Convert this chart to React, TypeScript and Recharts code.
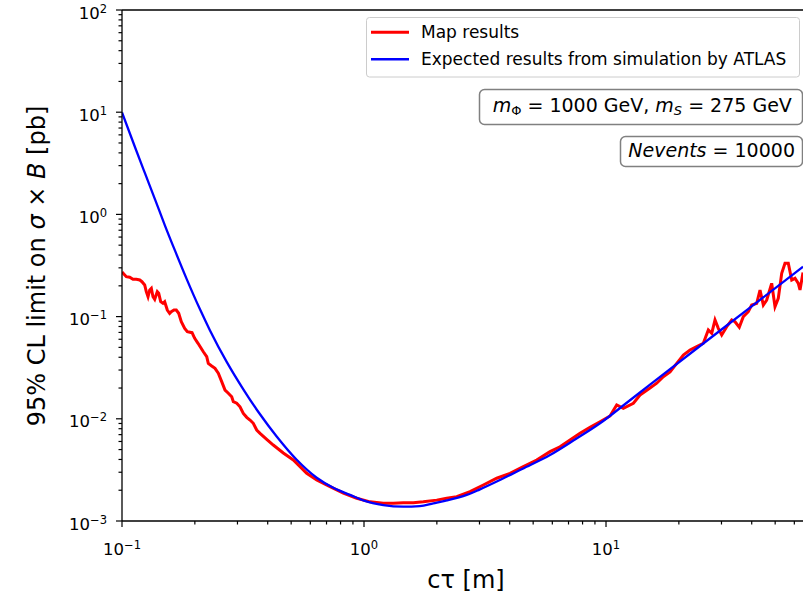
import React from 'react';
import { LineChart, Line, XAxis, YAxis, ReferenceLine, Label } from 'recharts';

// ---- Data ----
const MAP_CT = [
  0.1, 0.1042, 0.1076, 0.111, 0.1146, 0.1184, 0.1209, 0.1241, 0.126, 0.1281,
  0.1302, 0.1322, 0.1343, 0.1365, 0.1399, 0.1418, 0.1445, 0.1477, 0.1501, 0.1539,
  0.1574, 0.1598, 0.164, 0.1676, 0.1715, 0.1758, 0.1816, 0.1862, 0.1947, 0.1997,
  0.2061, 0.2168, 0.2239, 0.2273, 0.2348, 0.2423, 0.25, 0.2582, 0.2665, 0.275,
  0.284, 0.2884, 0.2979, 0.3074, 0.3172, 0.3276, 0.338, 0.3488, 0.3603, 0.3718,
  0.3962, 0.4218, 0.464, 0.5103, 0.5797, 0.6375, 0.7236, 0.8213, 0.9329, 1.0587,
  1.2016, 1.3214, 1.4535, 1.5986, 1.7582, 1.997, 2.1965, 2.4158, 2.7417, 3.1116,
  3.5359, 4.012, 4.5531, 5.1711, 5.8703, 6.4553, 7.1002, 7.8095, 8.5896, 9.445,
  10.388, 11.07, 11.79, 12.97, 13.82, 15.2, 16.2, 17.25, 18.39, 19.6,
  20.87, 22.24, 23.71, 25.24, 26.47, 27.34, 28.21, 29.11, 30.07, 31.53,
  33.07, 34.12, 35.54, 36.92, 38.72, 39.99, 41.95, 43.29, 44.67, 46.13,
  48.37, 49.92, 51.51, 53.21, 54.9, 56.65, 58.53, 60.39, 62.31, 63.33, 65.16,
];
const MAP_LIMIT = [
  0.273, 0.2457, 0.2424, 0.2317, 0.2317, 0.2281, 0.2195, 0.2038, 0.1753, 0.1565,
  0.1821, 0.1891, 0.1565, 0.1476, 0.1753, 0.169, 0.1399, 0.1349, 0.1399, 0.116,
  0.1077, 0.1117, 0.116, 0.116, 0.1077, 0.0891, 0.0768, 0.0712, 0.0696, 0.0613,
  0.0548, 0.0453, 0.0405, 0.0349, 0.0329, 0.0312, 0.0279, 0.0231, 0.0191, 0.0178,
  0.0164, 0.0147, 0.0142, 0.0131, 0.0113, 0.01034, 0.00973, 0.00904, 0.00777, 0.00721,
  0.0063, 0.00554, 0.00463, 0.00395, 0.00293, 0.00252, 0.00217, 0.00187, 0.00167, 0.00154,
  0.00149, 0.00149, 0.00151, 0.00151, 0.00154, 0.0016, 0.00167, 0.00173, 0.00194, 0.00225,
  0.00262, 0.00293, 0.0034, 0.00395, 0.00477, 0.00533, 0.0062, 0.00721, 0.00826, 0.00937,
  0.01065, 0.01365, 0.01267, 0.0142, 0.0171, 0.02, 0.0223, 0.0258, 0.0287, 0.0349,
  0.0421, 0.0471, 0.0508, 0.0548, 0.0739, 0.0686, 0.0926, 0.0768, 0.0661, 0.0796,
  0.0926, 0.0891, 0.0786, 0.0998, 0.1117, 0.1299, 0.1349, 0.1821, 0.1299, 0.1453,
  0.2117, 0.125, 0.1511, 0.2653, 0.3323, 0.3323, 0.2281, 0.237, 0.2117, 0.1821, 0.27,
];
const ATLAS_CT = [
  0.1, 0.1132, 0.1245, 0.1369, 0.1505, 0.1656, 0.1851, 0.21, 0.231, 0.2708,
  0.3172, 0.3718, 0.4357, 0.527, 0.6375, 0.75, 0.8752, 1.0, 1.2016, 1.4535,
  1.7, 1.934, 2.2, 2.657, 3.0, 3.647, 4.5, 5.87, 7.5, 9.445,
  12, 15.2, 24.46, 39.36, 65.16,
];
const ATLAS_LIMIT = [
  9.93, 4.54, 2.518, 1.403, 0.778, 0.4416, 0.2328, 0.1178, 0.0733, 0.0361,
  0.01945, 0.01107, 0.00671, 0.00397, 0.00265, 0.0021, 0.0018, 0.00158, 0.00143, 0.00138,
  0.0014, 0.00149, 0.00159, 0.0018, 0.00203, 0.00252, 0.00323, 0.00442, 0.00634, 0.00904,
  0.01396, 0.0216, 0.0516, 0.1225, 0.3078,
];

const X_MAJOR = [0.1, 1, 10];
const X_MAJOR_EXP = ['\u22121', '0', '1'];
const X_MINOR = [0.2, 0.3, 0.4, 0.5, 0.6, 0.7, 0.8, 0.9, 2, 3, 4, 5, 6, 7, 8, 9, 20, 30, 40, 50, 60];
const Y_MAJOR = [0.001, 0.01, 0.1, 1, 10, 100];
const Y_MAJOR_EXP = ['\u22123', '\u22122', '\u22121', '0', '1', '2'];
const Y_MINOR = [
  0.002, 0.003, 0.004, 0.005, 0.006, 0.007, 0.008, 0.009,
  0.02, 0.03, 0.04, 0.05, 0.06, 0.07, 0.08, 0.09,
  0.2, 0.3, 0.4, 0.5, 0.6, 0.7, 0.8, 0.9,
  2, 3, 4, 5, 6, 7, 8, 9,
  20, 30, 40, 50, 60, 70, 80, 90,
];
const X_DOMAIN = [0.1, 65.16];
const Y_DOMAIN = [0.001, 100];

const SERIES_NAMES = ['Map results', 'Expected results from simulation by ATLAS'];
const X_LABEL = 'c\u03c4 [m]';

const mapData = MAP_CT.map((ct, i) => ({ ct, limit: MAP_LIMIT[i] }));
const atlasData = ATLAS_CT.map((ct, i) => ({ ct, limit: ATLAS_LIMIT[i] }));
const xTicks = [...X_MAJOR, ...X_MINOR].sort((a, b) => a - b);
const yTicks = [...Y_MAJOR, ...Y_MINOR].sort((a, b) => a - b);

const FONT = '"DejaVu Sans", sans-serif';
const TICK_FS = 16.5;

const XTick = (props: any) => {
  const { x, y, payload } = props;
  const idx = X_MAJOR.indexOf(payload.value);
  const major = idx >= 0;
  return (
    <g>
      <line x1={x} x2={x} y1={y} y2={y + (major ? 6 : 3.5)} stroke="#000" strokeWidth={1.2} />
      {major && (
        <text x={x} y={y + 34} textAnchor="middle" fontFamily={FONT} fontSize={TICK_FS} fill="#000">
          10
          <tspan dy={-6} fontSize={TICK_FS * 0.7}>{X_MAJOR_EXP[idx]}</tspan>
        </text>
      )}
    </g>
  );
};

const YTick = (props: any) => {
  const { x, y, payload } = props;
  const idx = Y_MAJOR.indexOf(payload.value);
  const major = idx >= 0;
  return (
    <g>
      <line x1={x} x2={x - (major ? 6 : 3.5)} y1={y} y2={y} stroke="#000" strokeWidth={1.2} />
      {major && (
        <text x={x - 15} y={y + 8.5} textAnchor="end" fontFamily={FONT} fontSize={TICK_FS} fill="#000">
          10
          <tspan dy={-6} fontSize={TICK_FS * 0.7}>{Y_MAJOR_EXP[idx]}</tspan>
        </text>
      )}
    </g>
  );
};

const Overlay = () => (
  <svg
    width={803}
    height={595}
    style={{ position: 'absolute', left: 0, top: 0, pointerEvents: 'none' }}
    fontFamily={FONT}
  >
    {/* legend */}
    <rect x={366.5} y={17.5} width={433} height={59.5} rx={3} fill="#fff" fillOpacity={0.8} stroke="#cccccc" strokeWidth={1} />
    <line x1={371} x2={409} y1={32.3} y2={32.3} stroke="#ff0000" strokeWidth={3} />
    <line x1={371} x2={409} y1={59.3} y2={59.3} stroke="#0000ff" strokeWidth={2.5} />
    <text x={421} y={38.3} fontSize={17} fill="#000">{SERIES_NAMES[0]}</text>
    <text x={421} y={65} fontSize={17} fill="#000">{SERIES_NAMES[1]}</text>

    {/* mass annotation */}
    <rect x={479.5} y={89.5} width={323} height={35} rx={5} fill="#fff" stroke="#808080" strokeWidth={1.5} />
    <text x={492.7} y={111.7} fontSize={19} fill="#000">
      <tspan fontStyle="italic">m</tspan>
      <tspan fontSize={13} dy={3}>{'\u03a6'}</tspan>
      <tspan dy={-3}>{' = 1000 GeV, '}</tspan>
      <tspan fontStyle="italic">m</tspan>
      <tspan fontSize={13} dy={3} fontStyle="italic">S</tspan>
      <tspan dy={-3}>{' = 275 GeV'}</tspan>
    </text>

    {/* events annotation */}
    <rect x={620.5} y={136.5} width={182} height={30} rx={5} fill="#fff" stroke="#808080" strokeWidth={1.5} />
    <text x={628.3} y={156.7} fontSize={19} fill="#000">
      <tspan fontStyle="italic">Nevents</tspan>
      <tspan>{' = 10000'}</tspan>
    </text>
  </svg>
);

export default function App() {
  return (
    <div style={{ position: 'absolute', left: 0, top: 0, width: 803, height: 595, background: '#fff' }}>
      <LineChart width={803} height={595} margin={{ top: 10, right: 0, bottom: 0, left: 0 }}>
        <XAxis
          xAxisId={0}
          type="number"
          dataKey="ct"
          scale="log"
          domain={X_DOMAIN}
          allowDataOverflow
          ticks={xTicks}
          interval={0}
          tick={(p: any) => <XTick {...p} />}
          tickLine={false}
          tickSize={0}
          tickMargin={0}
          axisLine={{ stroke: '#000', strokeWidth: 1.3 }}
          height={74}
        >
          <Label
            content={() => (
              <text x={466} y={588} textAnchor="middle" fontFamily={FONT} fontSize={24} fill="#000">
                {X_LABEL}
              </text>
            )}
          />
        </XAxis>
        <YAxis
          yAxisId={0}
          type="number"
          scale="log"
          domain={Y_DOMAIN}
          allowDataOverflow
          ticks={yTicks}
          interval={0}
          tick={(p: any) => <YTick {...p} />}
          tickLine={false}
          tickSize={0}
          tickMargin={0}
          axisLine={{ stroke: '#000', strokeWidth: 1.3 }}
          width={122}
        >
          <Label
            content={() => (
              <text
                x={45}
                y={266}
                transform="rotate(-90, 45, 266)"
                textAnchor="middle"
                fontFamily={FONT}
                fontSize={24}
                fill="#000"
              >
                {'95% CL limit on '}
                <tspan fontStyle="italic">{'\u03c3'}</tspan>
                {' \u00d7 '}
                <tspan fontStyle="italic">B</tspan>
                {' [pb]'}
              </text>
            )}
          />
        </YAxis>
        <ReferenceLine xAxisId={0} yAxisId={0} y={100} stroke="#000" strokeWidth={1.3} />
        <Line
          xAxisId={0}
          yAxisId={0}
          data={mapData}
          dataKey="limit"
          type="linear"
          stroke="#ff0000"
          strokeWidth={3}
          dot={false}
          isAnimationActive={false}
          name={SERIES_NAMES[0]}
        />
        <Line
          xAxisId={0}
          yAxisId={0}
          data={atlasData}
          dataKey="limit"
          type="monotoneX"
          stroke="#0000ff"
          strokeWidth={2.3}
          dot={false}
          isAnimationActive={false}
          name={SERIES_NAMES[1]}
        />
      </LineChart>
      <Overlay />
    </div>
  );
}
